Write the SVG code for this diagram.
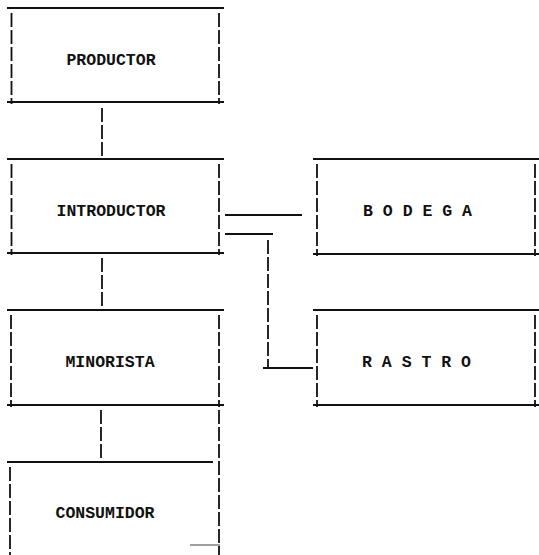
<svg xmlns="http://www.w3.org/2000/svg" width="539" height="555" viewBox="0 0 539 555">
<style>
.h{stroke:#111;stroke-width:2;fill:none}
.v{stroke:#111;stroke-width:1.8;fill:none;stroke-dasharray:14 3}
.t{font-family:"Liberation Mono","Courier New",monospace;font-weight:bold;font-size:16.5px;fill:#111;text-anchor:middle}
</style>
<rect width="539" height="555" fill="#fff"/>
<g id="productor">
<line class="h" x1="7" y1="8" x2="224" y2="8"/>
<line class="h" x1="7" y1="102" x2="224" y2="102"/>
<line class="v" x1="11.5" y1="13" x2="11.5" y2="104"/>
<line class="v" x1="219" y1="13" x2="219" y2="104"/>
<text class="t" x="111" y="65">PRODUCTOR</text>
</g>
<g id="introductor">
<line class="h" x1="7" y1="159" x2="224" y2="159"/>
<line class="h" x1="7" y1="253" x2="224" y2="253"/>
<line class="v" x1="11.5" y1="164" x2="11.5" y2="255"/>
<line class="v" x1="219" y1="164" x2="219" y2="255"/>
<text class="t" x="111" y="216">INTRODUCTOR</text>
</g>
<g id="minorista">
<line class="h" x1="7" y1="310" x2="224" y2="310"/>
<line class="h" x1="7" y1="405" x2="224" y2="405"/>
<line class="v" x1="11" y1="315" x2="11" y2="407"/>
<line class="v" x1="219" y1="315" x2="219" y2="407"/>
<text class="t" x="110" y="367">MINORISTA</text>
</g>
<g id="consumidor">
<line class="h" x1="7" y1="462" x2="213" y2="462"/>
<line class="h" x1="190" y1="545" x2="220" y2="545" stroke-opacity="0.4"/>
<line class="v" x1="10" y1="467" x2="10" y2="555"/>
<line class="v" x1="219" y1="410" x2="219" y2="555"/>
<text class="t" x="105" y="518">CONSUMIDOR</text>
</g>
<g id="bodega">
<line class="h" x1="313" y1="159" x2="539" y2="159"/>
<line class="h" x1="313" y1="254" x2="539" y2="254"/>
<line class="v" x1="317" y1="164" x2="317" y2="256"/>
<line class="v" x1="535" y1="164" x2="535" y2="256"/>
<text class="t" x="417.5" y="216">B O D E G A</text>
</g>
<g id="rastro">
<line class="h" x1="313" y1="310" x2="539" y2="310"/>
<line class="h" x1="313" y1="405" x2="539" y2="405"/>
<line class="v" x1="317" y1="315" x2="317" y2="407"/>
<line class="v" x1="535" y1="315" x2="535" y2="407"/>
<text class="t" x="416.5" y="367">R A S T R O</text>
</g>
<g id="connectors">
<line class="v" x1="102" y1="108" x2="102" y2="159"/>
<line class="v" x1="102" y1="258" x2="102" y2="310"/>
<line class="v" x1="101" y1="410" x2="101" y2="462"/>
<line class="h" x1="225" y1="215" x2="302" y2="215"/>
<line class="h" x1="225" y1="234" x2="273" y2="234"/>
<line class="v" x1="268" y1="240" x2="268" y2="368"/>
<line class="h" x1="263" y1="368" x2="313" y2="368"/>
</g>
</svg>
